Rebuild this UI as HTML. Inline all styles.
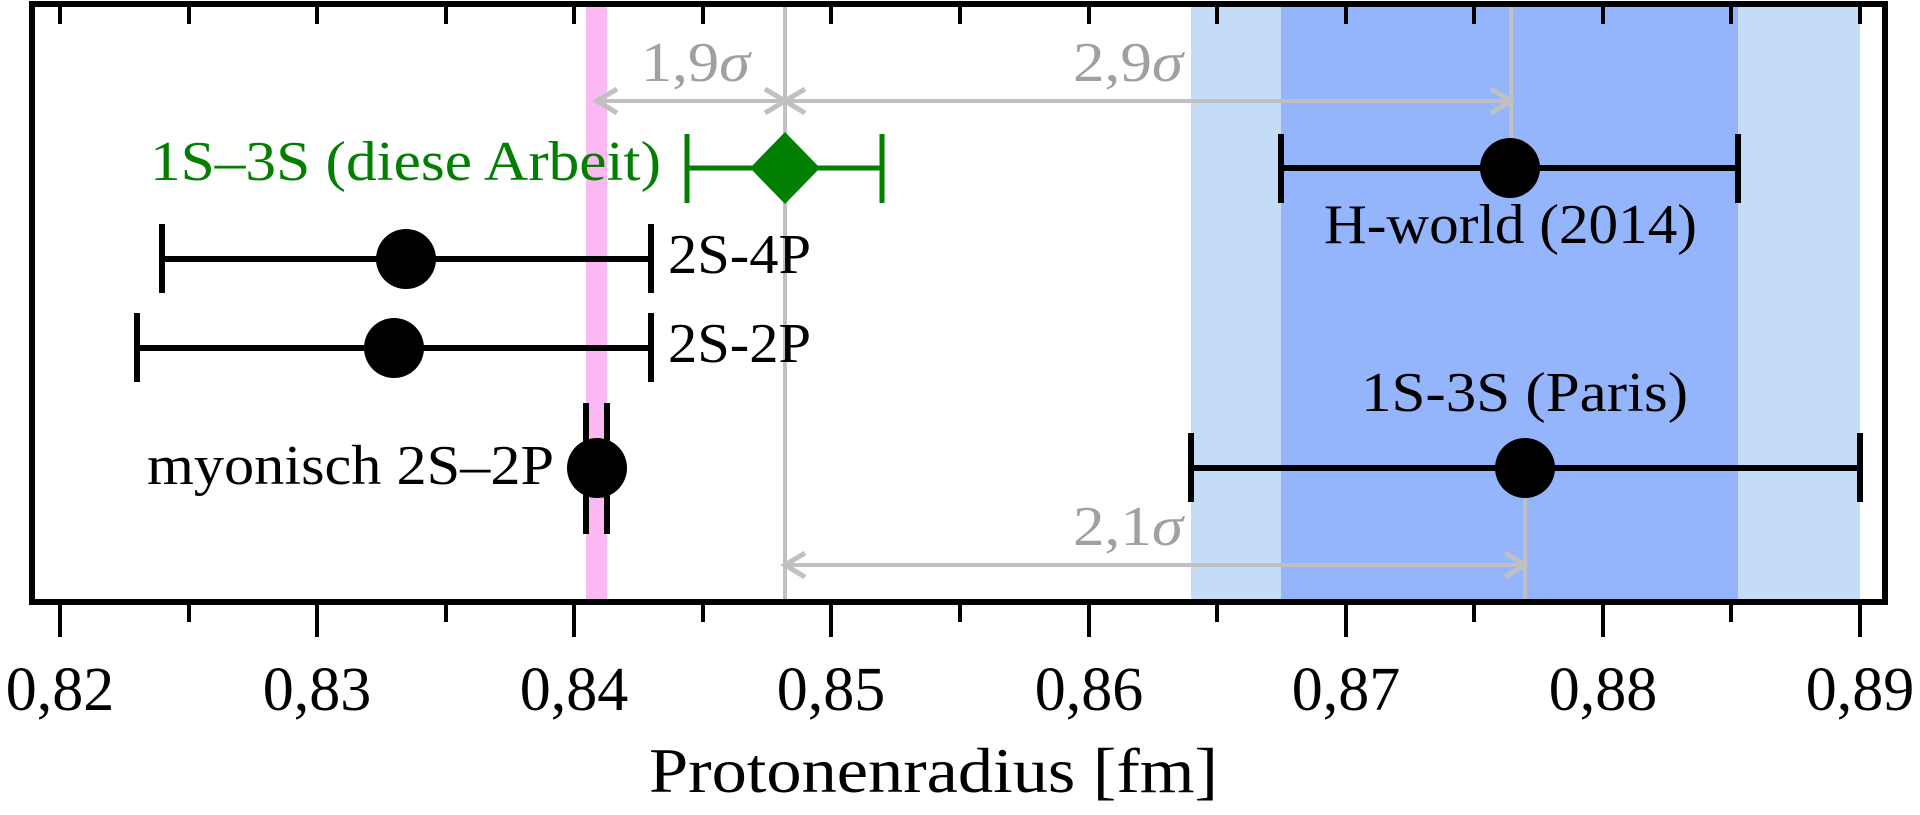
<!DOCTYPE html>
<html><head><meta charset="utf-8"><style>html,body{margin:0;padding:0;background:#fff}svg{display:block}</style></head><body>
<svg width="1920" height="815" viewBox="0 0 1920 815" xmlns="http://www.w3.org/2000/svg" font-family="'Liberation Serif', serif">
<rect x="1191" y="4" width="669" height="598" fill="#c5dcf7"/>
<rect x="1281" y="4" width="457" height="598" fill="#94b5fb"/>
<rect x="586" y="4" width="21" height="598" fill="#fbb8f2"/>
<g stroke="#c0c0c0" stroke-width="4" fill="none">
<line x1="785" y1="4" x2="785" y2="602"/>
<line x1="1511" y1="4" x2="1511" y2="140"/>
<line x1="1525" y1="495" x2="1525" y2="602"/>
<line x1="597" y1="101" x2="785" y2="101"/>
<polyline points="617,89 597,101 617,113" stroke-width="5"/>
<polyline points="765,89 785,101 765,113" stroke-width="5"/>
<line x1="785" y1="101" x2="1511" y2="101"/>
<polyline points="805,89 785,101 805,113" stroke-width="5"/>
<polyline points="1491,89 1511,101 1491,113" stroke-width="5"/>
<line x1="785" y1="565" x2="1525" y2="565"/>
<polyline points="805,553 785,565 805,577" stroke-width="5"/>
<polyline points="1505,553 1525,565 1505,577" stroke-width="5"/>
</g>
<g fill="#a0a0a0" font-size="56">
<text x="641" y="81" textLength="109" lengthAdjust="spacingAndGlyphs">1,9<tspan font-style="italic">σ</tspan></text>
<text x="1073" y="81" textLength="110" lengthAdjust="spacingAndGlyphs">2,9<tspan font-style="italic">σ</tspan></text>
<text x="1073" y="545" textLength="110" lengthAdjust="spacingAndGlyphs">2,1<tspan font-style="italic">σ</tspan></text>
</g>
<g stroke="#007f00" stroke-width="5">
<line x1="687" y1="168" x2="882" y2="168"/>
<line x1="687" y1="134" x2="687" y2="203"/>
<line x1="882" y1="134" x2="882" y2="203"/>
</g>
<polygon points="785,132 820,168 785,204 750,168" fill="#007f00"/>
<text x="150" y="180" font-size="56" fill="#007f00" textLength="511" lengthAdjust="spacingAndGlyphs">1S–3S (diese Arbeit)</text>
<g stroke="#000" stroke-width="6">
<line x1="162" y1="259" x2="651" y2="259"/><line x1="162" y1="224" x2="162" y2="293"/><line x1="651" y1="224" x2="651" y2="293"/>
<line x1="137" y1="348" x2="651" y2="348"/><line x1="137" y1="313" x2="137" y2="382"/><line x1="651" y1="313" x2="651" y2="382"/>
<line x1="586" y1="403" x2="586" y2="534"/><line x1="607" y1="403" x2="607" y2="534"/>
<line x1="1281" y1="168" x2="1738" y2="168"/><line x1="1281" y1="134" x2="1281" y2="203"/><line x1="1738" y1="134" x2="1738" y2="203"/>
<line x1="1191" y1="468" x2="1860" y2="468"/><line x1="1191" y1="433" x2="1191" y2="502"/><line x1="1860" y1="433" x2="1860" y2="502"/>
</g>
<g fill="#000">
<circle cx="406" cy="259" r="30"/><circle cx="394" cy="348" r="30"/><circle cx="597" cy="468" r="30"/>
<circle cx="1510" cy="168" r="30"/><circle cx="1525" cy="468" r="30"/>
</g>
<g font-size="56" fill="#000">
<text x="668" y="273" textLength="143" lengthAdjust="spacingAndGlyphs">2S-4P</text>
<text x="668" y="362" textLength="143" lengthAdjust="spacingAndGlyphs">2S-2P</text>
<text x="147" y="484" textLength="407" lengthAdjust="spacingAndGlyphs">myonisch 2S–2P</text>
<text x="1324" y="243" textLength="373" lengthAdjust="spacingAndGlyphs">H-world (2014)</text>
<text x="1361" y="411" textLength="327" lengthAdjust="spacingAndGlyphs">1S-3S (Paris)</text>
</g>
<rect x="32" y="4" width="1853" height="598" fill="none" stroke="#000" stroke-width="6"/>
<g stroke="#000" stroke-width="4">
<line x1="60" y1="4" x2="60" y2="24"/><line x1="189" y1="4" x2="189" y2="24"/><line x1="317" y1="4" x2="317" y2="24"/><line x1="446" y1="4" x2="446" y2="24"/><line x1="574" y1="4" x2="574" y2="24"/><line x1="703" y1="4" x2="703" y2="24"/><line x1="831" y1="4" x2="831" y2="24"/><line x1="960" y1="4" x2="960" y2="24"/><line x1="1089" y1="4" x2="1089" y2="24"/><line x1="1217" y1="4" x2="1217" y2="24"/><line x1="1346" y1="4" x2="1346" y2="24"/><line x1="1474" y1="4" x2="1474" y2="24"/><line x1="1603" y1="4" x2="1603" y2="24"/><line x1="1731" y1="4" x2="1731" y2="24"/><line x1="1860" y1="4" x2="1860" y2="24"/>
<line x1="60" y1="602" x2="60" y2="637"/><line x1="317" y1="602" x2="317" y2="637"/><line x1="574" y1="602" x2="574" y2="637"/><line x1="831" y1="602" x2="831" y2="637"/><line x1="1089" y1="602" x2="1089" y2="637"/><line x1="1346" y1="602" x2="1346" y2="637"/><line x1="1603" y1="602" x2="1603" y2="637"/><line x1="1860" y1="602" x2="1860" y2="637"/>
<line x1="189" y1="602" x2="189" y2="622"/><line x1="446" y1="602" x2="446" y2="622"/><line x1="703" y1="602" x2="703" y2="622"/><line x1="960" y1="602" x2="960" y2="622"/><line x1="1217" y1="602" x2="1217" y2="622"/><line x1="1474" y1="602" x2="1474" y2="622"/><line x1="1731" y1="602" x2="1731" y2="622"/>
</g>
<g font-size="62" fill="#000" text-anchor="middle">
<text x="60" y="710">0,82</text><text x="317" y="710">0,83</text><text x="574" y="710">0,84</text><text x="831" y="710">0,85</text><text x="1089" y="710">0,86</text><text x="1346" y="710">0,87</text><text x="1603" y="710">0,88</text><text x="1860" y="710">0,89</text>
</g>
<text x="649" y="792" font-size="64" fill="#000" textLength="569" lengthAdjust="spacingAndGlyphs">Protonenradius [fm]</text>
</svg>
</body></html>
